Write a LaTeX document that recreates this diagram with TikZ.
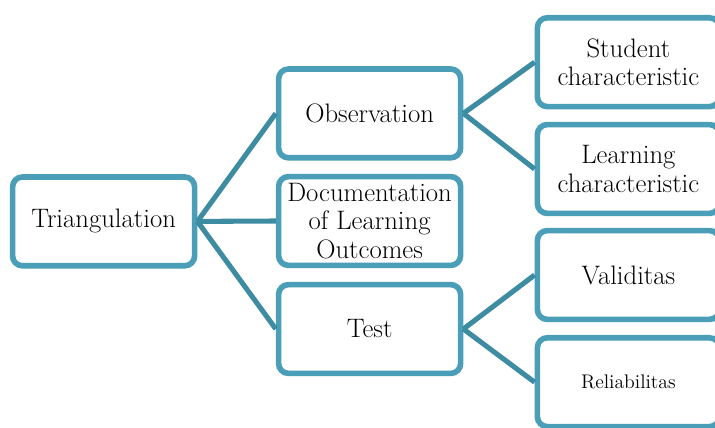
\documentclass[tikz,border=0pt]{standalone}
\usepackage{tikz}

\definecolor{boxline}{RGB}{74,158,183}
\definecolor{edgeline}{RGB}{62,140,162}

\begin{document}
\begin{tikzpicture}[
    % Стиль для блоков: скруглённый прямоугольник с толстой рамкой
    block/.style={rectangle, rounded corners=7pt, draw=boxline, line width=4pt,
        fill=white, minimum width=4.55cm, minimum height=2.22cm, inner sep=0pt,
        align=center, font=\fontsize{19}{20.5}\selectfont},
    % Стиль для связей: толстая линия
    edge/.style={draw=edgeline, line width=3.6pt}
]
    % Рамка картинки
    \useasboundingbox (0, 0) rectangle (17.875, 10.675);

    % --- Корень ---
    \node[block] (tri) at (2.59, 5.14) {Triangulation};

    % --- Второй уровень (X = 9.24) ---
    \node[block] (obs) at (9.24, 7.84) {Observation};
    \node[block] (doc) at (9.24, 5.15) {Documentation\\of Learning\\Outcomes};
    \node[block] (test) at (9.24, 2.45) {Test};

    % --- Третий уровень (X = 15.71), выходит за правый край ---
    \node[block] (stud) at (15.71, 9.12) {Student\\characteristic};
    \node[block] (learn) at (15.71, 6.45) {Learning\\characteristic};
    \node[block] (val) at (15.71, 3.8) {Validitas};
    \node[block, font=\fontsize{14}{16}\selectfont] (rel) at (15.71, 1.12) {Reliabilitas};

    % --- Связи от корня ---
    \draw[edge] (tri.east) -- (obs.west);
    \draw[edge] (tri.east) -- (doc.west);
    \draw[edge] (tri.east) -- (test.west);

    % --- Связи второго уровня ---
    \draw[edge] (obs.east) -- (stud.west);
    \draw[edge] (obs.east) -- (learn.west);
    \draw[edge] (test.east) -- (val.west);
    \draw[edge] (test.east) -- (rel.west);

\end{tikzpicture}
\end{document}
